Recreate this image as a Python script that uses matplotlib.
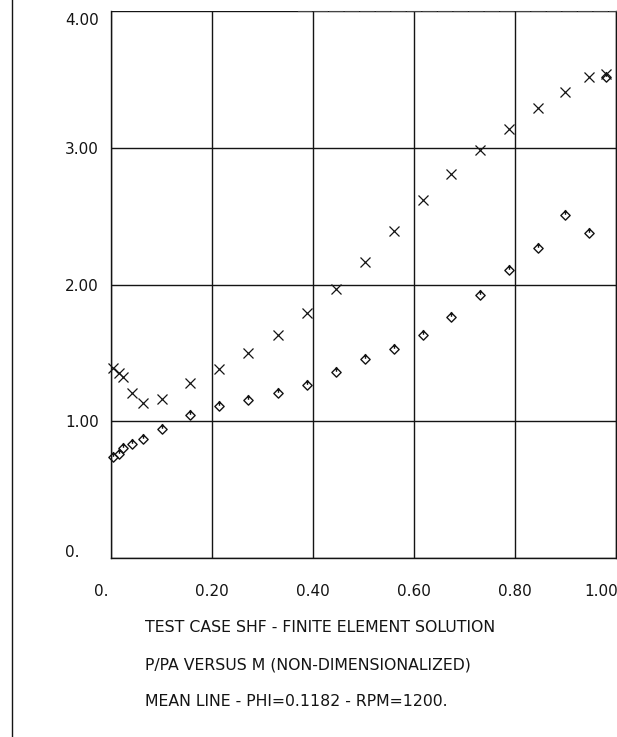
import matplotlib
matplotlib.use("Agg")
import matplotlib.pyplot as plt
from matplotlib.path import Path
from matplotlib.lines import Line2D

# Mach number along the mean line and the two pressure ratio series
m_values = [0.004, 0.015, 0.024, 0.042, 0.064, 0.101, 0.156, 0.213, 0.272, 0.331,
            0.388, 0.445, 0.503, 0.561, 0.617, 0.674, 0.731, 0.788, 0.845, 0.899,
            0.947, 0.981]
p_upper = [1.386, 1.35, 1.32, 1.207, 1.13, 1.166, 1.28, 1.385, 1.50, 1.634,
           1.788, 1.97, 2.165, 2.39, 2.617, 2.81, 2.98, 3.14, 3.29, 3.41,
           3.52, 3.54]
p_lower = [0.739, 0.759, 0.805, 0.83, 0.868, 0.94, 1.049, 1.11, 1.159, 1.203,
           1.263, 1.36, 1.453, 1.527, 1.629, 1.763, 1.92, 2.105, 2.27, 2.51,
           2.373, 3.52]

x_ticks = [0.0, 0.2, 0.4, 0.6, 0.8, 1.0]
x_tick_labels = ['0.', '0.20', '0.40', '0.60', '0.80', '1.00']
y_ticks = [0.0, 1.0, 2.0, 3.0, 4.0]
y_tick_labels = ['0.', '1.00', '2.00', '3.00', '4.00']

title_lines = ['TEST CASE SHF - FINITE ELEMENT SOLUTION',
               'P/PA VERSUS M (NON-DIMENSIONALIZED)',
               'MEAN LINE - PHI=0.1182 - RPM=1200.']

plt.rcParams['font.family'] = ['DejaVu Sans']
ink = '#141414'

fig = plt.figure(figsize=(6.17, 7.37), dpi=100)
fig.patch.set_facecolor('white')
ax = fig.add_axes([111 / 617, 179 / 737, 505 / 617, 547 / 737])
ax.set_xlim(0, 1.0)
ax.set_ylim(0, 4.0)

# plotter symbol: diamond with a short stroke dropped from the top corner
diamond_tick = Path(
    [(0, 1), (1, 0), (0, -1), (-1, 0), (0, 1), (0, 1.2), (0, 0.15)],
    [Path.MOVETO, Path.LINETO, Path.LINETO, Path.LINETO, Path.CLOSEPOLY,
     Path.MOVETO, Path.LINETO])

ax.plot(m_values, p_upper, linestyle='none', marker='x', markersize=7.5,
        markeredgewidth=0.9, color=ink, clip_on=False, zorder=3)
ax.plot(m_values, p_lower, linestyle='none', marker=diamond_tick, markersize=8,
        markeredgewidth=1.0, markerfacecolor='none', markeredgecolor=ink,
        clip_on=False, zorder=3)

# grid and frame
ax.set_xticks(x_ticks)
ax.set_yticks(y_ticks)
ax.tick_params(length=0, labelbottom=False, labelleft=False)
ax.grid(True, color=ink, linewidth=1.0)
ax.set_axisbelow(True)
for side in ['left', 'bottom', 'right']:
    ax.spines[side].set_color(ink)
    ax.spines[side].set_linewidth(1.0)
ax.spines['top'].set_color('#444444')
ax.spines['top'].set_linewidth(0.8)
ax.spines['top'].set_linestyle((0, (12, 2)))
ax.spines['top'].set_bounds(0.37, 1.0)

# tick labels written the way the plotter placed them
for i, (t, lab) in enumerate(zip(x_ticks, x_tick_labels)):
    dx = -12.2 if i < len(x_ticks) - 1 else -23
    ax.annotate(lab, xy=(t, 0), xytext=(dx, -24), textcoords='offset points',
                ha='left', va='center', fontsize=11, color=ink,
                annotation_clip=False)
for i, (t, lab) in enumerate(zip(y_ticks, y_tick_labels)):
    if i == 0:
        dy = 4.3
    elif i == len(y_ticks) - 1:
        dy = -6.5
    else:
        dy = -1.2
    ax.annotate(lab, xy=(0, t), xytext=(-33, dy), textcoords='offset points',
                ha='left', va='center', fontsize=11, color=ink,
                annotation_clip=False)

for k, line in enumerate(title_lines):
    fig.text(145 / 617, 1 - (628 + 36.5 * k) / 737, line, ha='left',
             va='center', fontsize=11.3, color=ink)

# page border line on the left
fig.add_artist(Line2D([12 / 617, 12 / 617], [0, 1], color=ink, linewidth=1.0,
                      transform=fig.transFigure))

fig.savefig('out.png', dpi=100, facecolor='white')
